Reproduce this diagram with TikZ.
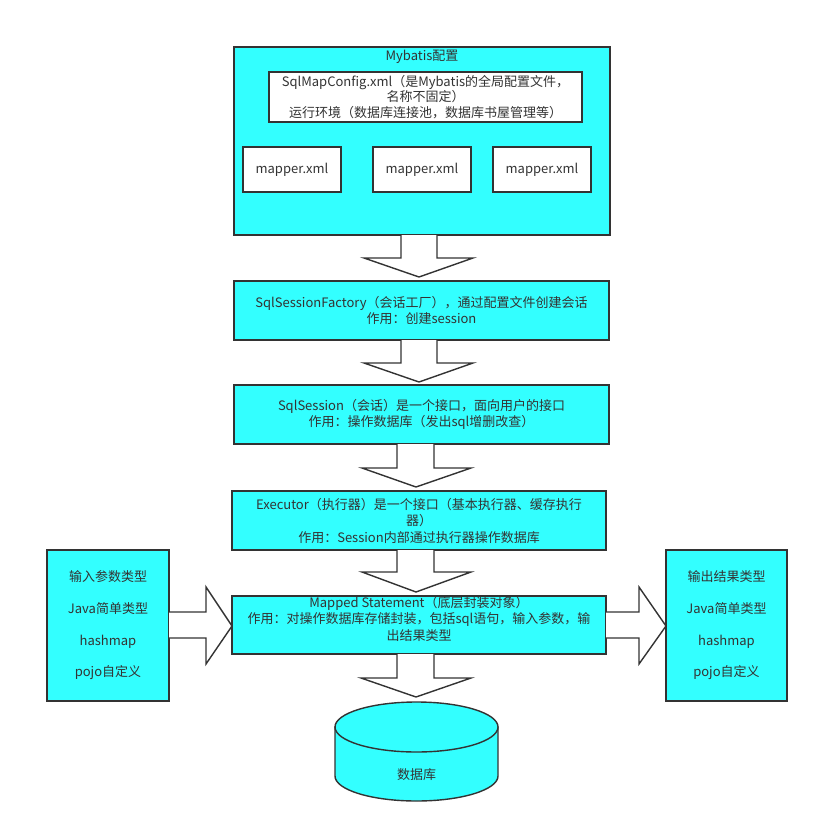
\documentclass[tikz,border=0pt]{standalone}
\usepackage{fontspec}
\setmainfont{Noto Sans CJK SC}
\usetikzlibrary{calc}
\definecolor{cy}{RGB}{51,255,255}
\definecolor{lc}{RGB}{51,51,51}
\definecolor{tc}{RGB}{51,51,51}
\tikzset{
  box/.style={draw=lc, line width=1.4pt, fill=cy, text=tc, align=center, inner sep=0pt,
    font=\fontsize{13}{16.5}\selectfont},
  wbox/.style={box, fill=white},
  txt/.style={text=tc, align=center, inner sep=0pt, font=\fontsize{13}{16.5}\selectfont},
  blockarrow/.style={draw=lc, line width=1.4pt, fill=white, line join=miter},
}
\begin{document}
\begin{tikzpicture}[x=1pt,y=-1pt]
\useasboundingbox (0,0) rectangle (819,833);
% Mybatis config
\node[box, minimum width=376, minimum height=188] (cfg) at (422,141) {};
\node[txt] (cfgt) at (422,57) {Mybatis配置};
\node[wbox, minimum width=313, minimum height=50, font=\fontsize{13}{15.5}\selectfont] (smc) at (425.5,97)
  {SqlMapConfig.xml（是Mybatis的全局配置文件，\\名称不固定）\\运行环境（数据库连接池，数据库书屋管理等）};
\node[wbox, minimum width=98, minimum height=45] (m1) at (292,169.5) {mapper.xml};
\node[wbox, minimum width=98, minimum height=45] (m2) at (422,169.5) {mapper.xml};
\node[wbox, minimum width=98, minimum height=45] (m3) at (542,169.5) {mapper.xml};
% chain
\node[box, minimum width=375, minimum height=59] (fac) at (421.5,310.5)
  {SqlSessionFactory（会话工厂），通过配置文件创建会话\\作用：创建session};
\node[box, minimum width=375, minimum height=59] (ses) at (421.5,414.5)
  {SqlSession（会话）是一个接口，面向用户的接口\\作用：操作数据库（发出sql增删改查）};
\node[box, minimum width=374, minimum height=59] (exe) at (419,520.5)
  {Executor（执行器）是一个接口（基本执行器、缓存执行\\器）\\作用：Session内部通过执行器操作数据库};
\node[box, minimum width=374, minimum height=58] (ms) at (419,625) {};
\node[txt] (mst) at (419,618.5)
  {Mapped Statement（底层封装对象）\\作用：对操作数据库存储封装，包括sql语句，输入参数，输\\出结果类型};
% side boxes
\node[box, minimum width=122, minimum height=151, font=\fontsize{13}{31.7}\selectfont] (inp) at (108,625.5)
  {输入参数类型\\Java简单类型\\hashmap\\pojo自定义};
\node[box, minimum width=121, minimum height=151, font=\fontsize{13}{31.7}\selectfont] (outp) at (726.5,625.5)
  {输出结果类型\\Java简单类型\\hashmap\\pojo自定义};
% block arrows
\filldraw[blockarrow] (401,235)--(401,258)--(364,258)--(419,277)--(473,258)--(437,258)--(437,235);
\filldraw[blockarrow] (401,340)--(401,363)--(364,363)--(419,382)--(473,363)--(437,363)--(437,340);
\filldraw[blockarrow] (397,444)--(397,468)--(362,468)--(416,487)--(471,468)--(434,468)--(434,444);
\filldraw[blockarrow] (397,550)--(397,572)--(362,572)--(416,592)--(471,572)--(434,572)--(434,550);
\filldraw[blockarrow] (397,654)--(397,678)--(361,678)--(416,697)--(471,678)--(434,678)--(434,654);
\filldraw[blockarrow] (169,612)--(206,612)--(206,587)--(232,626)--(206,664)--(206,638)--(169,638);
\filldraw[blockarrow] (606,612)--(639,612)--(639,587)--(666,626)--(639,664)--(639,638)--(606,638);
% database cylinder
\filldraw[draw=lc, fill=cy, line width=1.4pt] (335,727) -- (335,776)
  arc[start angle=180, end angle=360, x radius=81.5pt, y radius=25pt] -- (498,727) -- cycle;
\filldraw[draw=lc, fill=cy, line width=1.4pt] (416.5,727) ellipse[x radius=81.5pt, y radius=25pt];
\node[txt] (db) at (416.5,775) {数据库};
\end{tikzpicture}
\end{document}
